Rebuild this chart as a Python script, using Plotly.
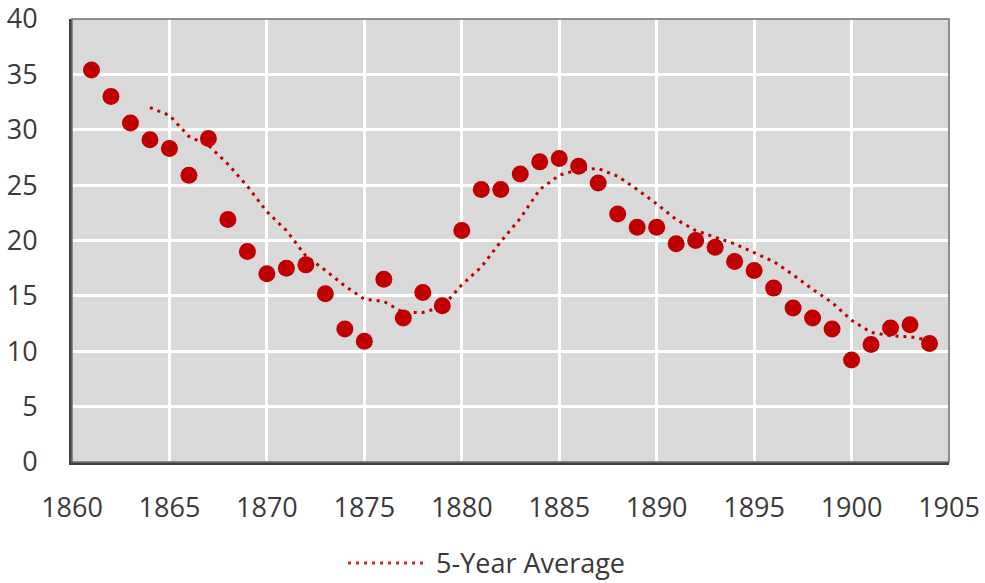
import plotly.graph_objects as go

years = list(range(1861, 1905))
values = [35.4, 33.0, 30.6, 29.1, 28.3, 25.9, 29.2, 21.9, 19.0, 17.0,
          17.5, 17.8, 15.2, 12.0, 10.9, 16.5, 13.0, 15.3, 14.1, 20.9,
          24.6, 24.6, 26.0, 27.1, 27.4, 26.7, 25.2, 22.4, 21.2, 21.2,
          19.7, 20.0, 19.4, 18.1, 17.3, 15.7, 13.9, 13.0, 12.0, 9.2,
          10.6, 12.1, 12.4, 10.7]

avg_years = list(range(1864, 1905))
avg_values = [32.0, 31.3, 29.4, 28.6, 26.9, 24.9, 22.6, 20.9, 18.6, 17.3,
              15.9, 14.7, 14.5, 13.5, 13.5, 14.0, 16.0, 17.6, 19.9, 22.0,
              24.6, 25.9, 26.4, 26.5, 25.8, 24.6, 23.3, 21.9, 20.9, 20.3,
              19.7, 18.9, 18.1, 16.9, 15.6, 14.4, 12.8, 11.7, 11.4, 11.3,
              11.0]
avg_label = "5-Year Average"

x_ticks = list(range(1860, 1906, 5))
y_ticks = list(range(0, 41, 5))

red = "#c00000"
font_family = "Open Sans, Noto Sans, Liberation Sans, sans-serif"
text_color = "#3a3a3a"

fig = go.Figure()
fig.add_trace(go.Scatter(
    x=years, y=values, mode="markers",
    marker=dict(color=red, size=17),
    showlegend=False, name="Data"))
fig.add_trace(go.Scatter(
    x=avg_years, y=avg_values, mode="lines",
    line=dict(color=red, width=3, dash="3px,5px"),
    showlegend=False, name=avg_label))

# legend drawn as a sample line plus label, below the plot
fig.add_shape(type="line", xref="paper", yref="paper",
              x0=(348 - 72) / 877, x1=(424 - 72) / 877,
              y0=(462 - 563) / 443, y1=(462 - 563) / 443,
              line=dict(color="#d42a2a", width=3, dash="3px,5px"))
fig.add_annotation(text=avg_label, xref="paper", yref="paper",
                   x=(434 - 72) / 877, y=(462 - 562) / 443,
                   xanchor="left", yanchor="middle", showarrow=False,
                   font=dict(family=font_family, size=27, color=text_color))

fig.update_layout(
    width=985, height=583,
    margin=dict(l=72, r=36, t=19, b=121),
    paper_bgcolor="white", plot_bgcolor="#d9d9d9",
    font=dict(family=font_family, size=27, color=text_color),
    showlegend=False,
    xaxis=dict(range=[1860, 1905], tickvals=x_ticks, showgrid=True,
               gridcolor="white", gridwidth=2.5, zeroline=False,
               showline=True, linecolor="#404040", linewidth=3,
               ticks="outside", ticklen=20, tickcolor="rgba(0,0,0,0)",
               automargin=False, ticklabeloverflow="allow"),
    yaxis=dict(range=[0, 40], tickvals=y_ticks, showgrid=True,
               gridcolor="white", gridwidth=2.5, zeroline=False,
               showline=True, linecolor="#404040", linewidth=3,
               ticks="outside", ticklen=26, tickcolor="rgba(0,0,0,0)",
               automargin=False, ticklabeloverflow="allow"),
)
fig.add_shape(type="rect", xref="paper", yref="paper", x0=0, y0=0, x1=1, y1=1,
              line=dict(color="#6f6f6f", width=1.5), layer="above")

fig.write_html("out.html",
               config={"displayModeBar": False},
               post_script="document.body.style.margin='0';document.body.style.overflow='hidden';")
